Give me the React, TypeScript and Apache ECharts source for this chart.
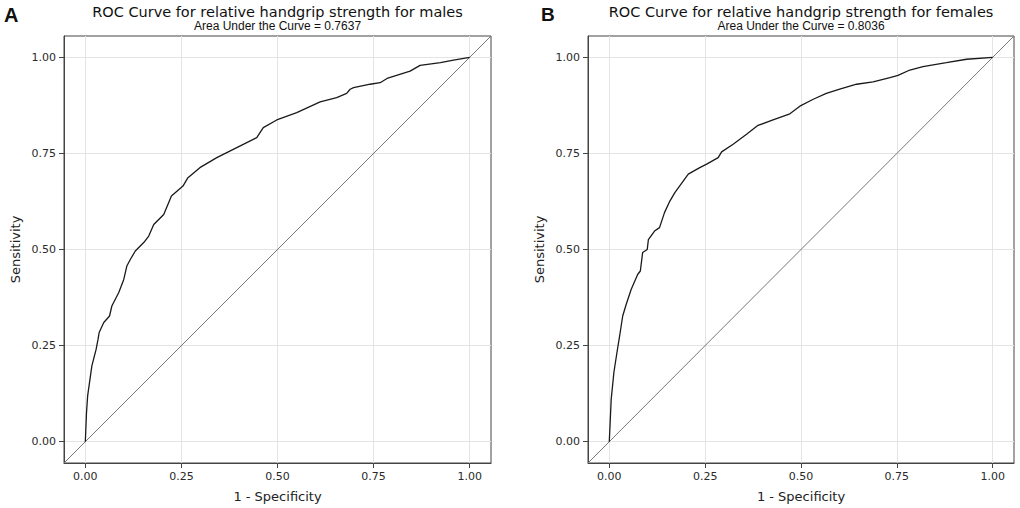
import React, { useEffect, useRef } from "react";
import * as echarts from "echarts";

// Male ROC curve (1 - specificity, sensitivity)
const maleFpr = [0, 0.003, 0.006, 0.017, 0.028, 0.033, 0.036, 0.048, 0.063, 0.069, 0.087, 0.1, 0.108, 0.117, 0.13, 0.152, 0.165, 0.178, 0.204, 0.224, 0.254, 0.267, 0.298, 0.342, 0.394, 0.446, 0.463, 0.498, 0.55, 0.611, 0.654, 0.68, 0.689, 0.698, 0.741, 0.767, 0.785, 0.845, 0.871, 0.924, 0.958, 1.0];
const maleTpr = [0, 0.075, 0.119, 0.197, 0.24, 0.266, 0.284, 0.31, 0.327, 0.353, 0.388, 0.422, 0.457, 0.474, 0.496, 0.518, 0.535, 0.565, 0.591, 0.639, 0.665, 0.687, 0.713, 0.739, 0.765, 0.791, 0.817, 0.837, 0.856, 0.884, 0.895, 0.906, 0.917, 0.921, 0.93, 0.934, 0.945, 0.964, 0.979, 0.986, 0.993, 1.0];

// Female ROC curve
const femaleFpr = [0, 0.005, 0.012, 0.02, 0.027, 0.035, 0.044, 0.057, 0.074, 0.081, 0.087, 0.099, 0.102, 0.118, 0.131, 0.144, 0.158, 0.171, 0.206, 0.236, 0.254, 0.284, 0.293, 0.323, 0.358, 0.388, 0.427, 0.471, 0.497, 0.532, 0.566, 0.601, 0.645, 0.688, 0.732, 0.753, 0.784, 0.818, 0.879, 0.932, 1.0];
const femaleTpr = [0, 0.11, 0.18, 0.232, 0.275, 0.327, 0.357, 0.396, 0.435, 0.444, 0.492, 0.5, 0.526, 0.548, 0.557, 0.596, 0.626, 0.648, 0.696, 0.713, 0.722, 0.739, 0.754, 0.774, 0.8, 0.823, 0.837, 0.853, 0.873, 0.891, 0.906, 0.917, 0.93, 0.936, 0.947, 0.953, 0.967, 0.976, 0.986, 0.995, 1.0];

const tickValues = [0, 0.25, 0.5, 0.75, 1.0];
const panelTitles = [
  "ROC Curve for relative handgrip strength for males",
  "ROC Curve for relative handgrip strength for females",
];
const panelSubtitles = ["Area Under the Curve = 0.7637", "Area Under the Curve = 0.8036"];
const panelLetters = ["A", "B"];

const AX_MIN = -0.0555;
const AX_MAX = 1.0555;

const TITLE_FONT = '"DejaVu Sans", sans-serif';
const SUB_FONT = '"Liberation Sans", Arial, sans-serif';

function pairs(xs: number[], ys: number[]) {
  return xs.map((x, i) => [x, ys[i]]);
}

export default function App() {
  const ref = useRef<HTMLDivElement>(null);

  useEffect(() => {
    if (!ref.current) return;
    const chart = echarts.init(ref.current, null, { renderer: "svg" });

    const grids = [
      { left: 64, top: 36, width: 427, height: 427 },
      { left: 588, top: 36, width: 426, height: 427 },
    ];

    const mkX = (gi: number) => ({
      gridIndex: gi,
      type: "value",
      min: AX_MIN,
      max: AX_MAX,
      name: "1 - Specificity",
      nameLocation: "middle",
      nameGap: 27,
      nameTextStyle: { fontSize: 13, color: "#222", fontFamily: TITLE_FONT },
      axisLine: { show: true, onZero: false, lineStyle: { color: "#444", width: 1 } },
      axisTick: { show: true, length: 5, customValues: tickValues, lineStyle: { color: "#444" } },
      axisLabel: {
        customValues: tickValues,
        formatter: (v: number) => v.toFixed(2),
        fontSize: 11,
        color: "#2a2a2a",
        margin: 8,
        fontFamily: TITLE_FONT,
      },
      splitLine: { show: true, lineStyle: { color: "#e4e4e4", width: 1 } },
    });
    const mkY = (gi: number) => ({
      gridIndex: gi,
      type: "value",
      min: AX_MIN,
      max: AX_MAX,
      name: "Sensitivity",
      nameLocation: "middle",
      nameGap: 42,
      nameTextStyle: { fontSize: 13, color: "#222", fontFamily: TITLE_FONT },
      axisLine: { show: true, onZero: false, lineStyle: { color: "#444", width: 1 } },
      axisTick: { show: true, length: 5, customValues: tickValues, lineStyle: { color: "#444" } },
      axisLabel: {
        customValues: tickValues,
        formatter: (v: number) => v.toFixed(2),
        fontSize: 11,
        color: "#2a2a2a",
        margin: 8,
        fontFamily: TITLE_FONT,
      },
      splitLine: { show: true, lineStyle: { color: "#e4e4e4", width: 1 } },
    });

    const curve = (gi: number, data: number[][]) => ({
      type: "line",
      xAxisIndex: gi,
      yAxisIndex: gi,
      data,
      showSymbol: false,
      symbol: "none",
      lineStyle: { color: "#1a1a1a", width: 1.3 },
      z: 3,
    });
    const diag = (gi: number) => ({
      type: "line",
      xAxisIndex: gi,
      yAxisIndex: gi,
      data: [
        [AX_MIN, AX_MIN],
        [AX_MAX, AX_MAX],
      ],
      showSymbol: false,
      symbol: "none",
      lineStyle: { color: "#777", width: 1 },
      z: 2,
    });

    const graphics: any[] = [];
    grids.forEach((g, i) => {
      const cx = g.left + g.width / 2;
      graphics.push({
        type: "text",
        x: cx,
        y: 12,
        style: {
          text: panelTitles[i],
          fontSize: 14.5,
          fontFamily: TITLE_FONT,
          fill: "#111",
          align: "center",
          verticalAlign: "middle",
        },
      });
      graphics.push({
        type: "text",
        x: cx,
        y: 26,
        style: {
          text: panelSubtitles[i],
          fontSize: 12,
          fontFamily: SUB_FONT,
          fill: "#111",
          align: "center",
          verticalAlign: "middle",
        },
      });
    });
    graphics.push({
      type: "text",
      x: 4,
      y: 14.5,
      style: {
        text: panelLetters[0],
        fontSize: 20,
        fontWeight: "bold",
        fontFamily: SUB_FONT,
        fill: "#111",
        align: "left",
        verticalAlign: "middle",
      },
    });
    graphics.push({
      type: "text",
      x: 541,
      y: 14.5,
      style: {
        text: panelLetters[1],
        fontSize: 19,
        fontWeight: "bold",
        fontFamily: SUB_FONT,
        fill: "#111",
        align: "left",
        verticalAlign: "middle",
      },
    });

    chart.setOption({
      animation: false,
      backgroundColor: "#ffffff",
      grid: grids.map((g) => ({ ...g, show: true, borderColor: "#444", borderWidth: 1, backgroundColor: "transparent" })),
      xAxis: [mkX(0), mkX(1)],
      yAxis: [mkY(0), mkY(1)],
      series: [
        diag(0),
        curve(0, pairs(maleFpr, maleTpr)),
        diag(1),
        curve(1, pairs(femaleFpr, femaleTpr)),
      ],
      graphic: graphics,
    });

    return () => chart.dispose();
  }, []);

  return (
    <div
      ref={ref}
      style={{ position: "fixed", left: 0, top: 0, width: 1020, height: 508, background: "#fff" }}
    />
  );
}
